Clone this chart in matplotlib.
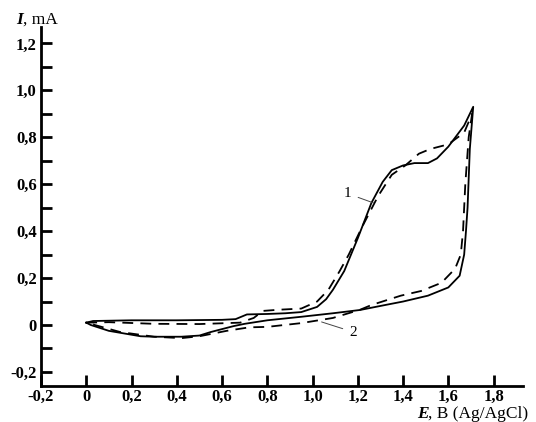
import matplotlib
matplotlib.use("Agg")
import matplotlib.pyplot as plt
import numpy as np

# curve 1 (solid) - closed loop
E1 = [0.0, 0.03, 0.2, 0.4, 0.6, 0.66, 0.71, 0.8, 0.88, 0.95, 1.02, 1.06, 1.09, 1.14, 1.2,
      1.26, 1.31, 1.35, 1.4, 1.45, 1.51, 1.55, 1.6, 1.67, 1.71,
      1.695, 1.685, 1.678, 1.67, 1.65, 1.6, 1.51, 1.4, 1.32, 1.21, 1.09, 0.95, 0.8, 0.7,
      0.65, 0.55, 0.5, 0.42, 0.3, 0.24, 0.1, 0.02, 0.0]
I1 = [0.01, 0.017, 0.02, 0.02, 0.022, 0.025, 0.045, 0.047, 0.05, 0.055, 0.077, 0.11, 0.15, 0.23, 0.37,
      0.52, 0.61, 0.66, 0.68, 0.69, 0.69, 0.71, 0.76, 0.85, 0.93,
      0.75, 0.5, 0.4, 0.3, 0.21, 0.16, 0.125, 0.1, 0.085, 0.064, 0.05, 0.035, 0.02, 0.005,
      -0.005, -0.03, -0.045, -0.05, -0.05, -0.048, -0.025, 0.0, 0.01]

# curve 2 (dashed)
E2 = [0.0, 0.1, 0.3, 0.5, 0.68, 0.74, 0.78, 0.85, 0.95, 1.02, 1.07, 1.12, 1.16, 1.22, 1.29,
      1.35, 1.41, 1.47, 1.52, 1.6, 1.67, 1.705,
      1.69, 1.675, 1.665, 1.655, 1.63, 1.57, 1.48, 1.39, 1.26, 1.21, 1.09, 0.95, 0.8, 0.72,
      0.62, 0.5, 0.42, 0.3, 0.15, 0.0]
I2 = [0.01, 0.012, 0.005, 0.004, 0.01, 0.03, 0.06, 0.065, 0.07, 0.1, 0.15, 0.23, 0.3, 0.42, 0.55,
      0.64, 0.68, 0.73, 0.75, 0.77, 0.82, 0.9,
      0.8, 0.6, 0.4, 0.3, 0.24, 0.18, 0.145, 0.125, 0.085, 0.065, 0.03, 0.008, -0.008, -0.01,
      -0.025, -0.048, -0.056, -0.05, -0.03, 0.01]

xticks = [-0.2, 0, 0.2, 0.4, 0.6, 0.8, 1.0, 1.2, 1.4, 1.6, 1.8]
yticks = [-0.2, 0, 0.2, 0.4, 0.6, 0.8, 1.0, 1.2]

def lab(v):
    if v == 0:
        return "0"
    return ("%.1f" % v).replace(".", ",")

serif = "Liberation Serif"

fig = plt.figure(figsize=(5.36, 4.22), dpi=100)
ax = fig.add_axes([41/536, 36/422, 482/536, 359/422])

ax.plot(E1, I1, color="black", lw=1.3)
ax.plot(E2, I2, color="black", lw=1.3, dashes=(6, 4))

ax.set_xlim(-0.2, 1.93)
ax.set_ylim(-0.26, 1.27)

for s in ["top", "right"]:
    ax.spines[s].set_visible(False)
for s in ["left", "bottom"]:
    ax.spines[s].set_linewidth(2)

ax.set_xticks(xticks)
ax.set_xticklabels([lab(v) for v in xticks])
ax.set_yticks(yticks)
ax.set_yticklabels([lab(v) for v in yticks])
ax.set_yticks(np.arange(-0.1, 1.2, 0.2), minor=True)
ax.tick_params(axis="both", which="both", direction="in", length=8, width=2)
ax.tick_params(axis="x", pad=2)
ax.tick_params(axis="y", pad=3)
for t in ax.get_xticklabels() + ax.get_yticklabels():
    t.set_fontfamily(serif)
    t.set_fontweight("bold")
    t.set_fontsize(12)

# curve labels with leader lines
ax.annotate("1", xy=(1.27, 0.52), xytext=(1.155, 0.56), fontsize=11, family=serif,
            ha="center", va="center",
            arrowprops=dict(arrowstyle="-", color="#444444", lw=0.7, shrinkA=3, shrinkB=0))
ax.annotate("2", xy=(1.04, 0.013), xytext=(1.18, -0.03), fontsize=11, family=serif,
            ha="center", va="center",
            arrowprops=dict(arrowstyle="-", color="#444444", lw=0.7, shrinkA=3, shrinkB=0))

# axis titles
fig.text(16/536, 1 - 24/422, "I", fontsize=12.5, family=serif, fontweight="bold",
         fontstyle="italic", ha="left", va="baseline")
fig.text(23/536, 1 - 24/422, ", mA", fontsize=12.5, family=serif, ha="left", va="baseline")
fig.text(417/536, 1 - 418/422, "E", fontsize=12.5, family=serif, fontweight="bold",
         fontstyle="italic", ha="left", va="baseline")
fig.text(428/536, 1 - 418/422, ", B (Ag/AgCl)", fontsize=12.5, family=serif,
         ha="left", va="baseline")

fig.savefig("out.png", dpi=100)
